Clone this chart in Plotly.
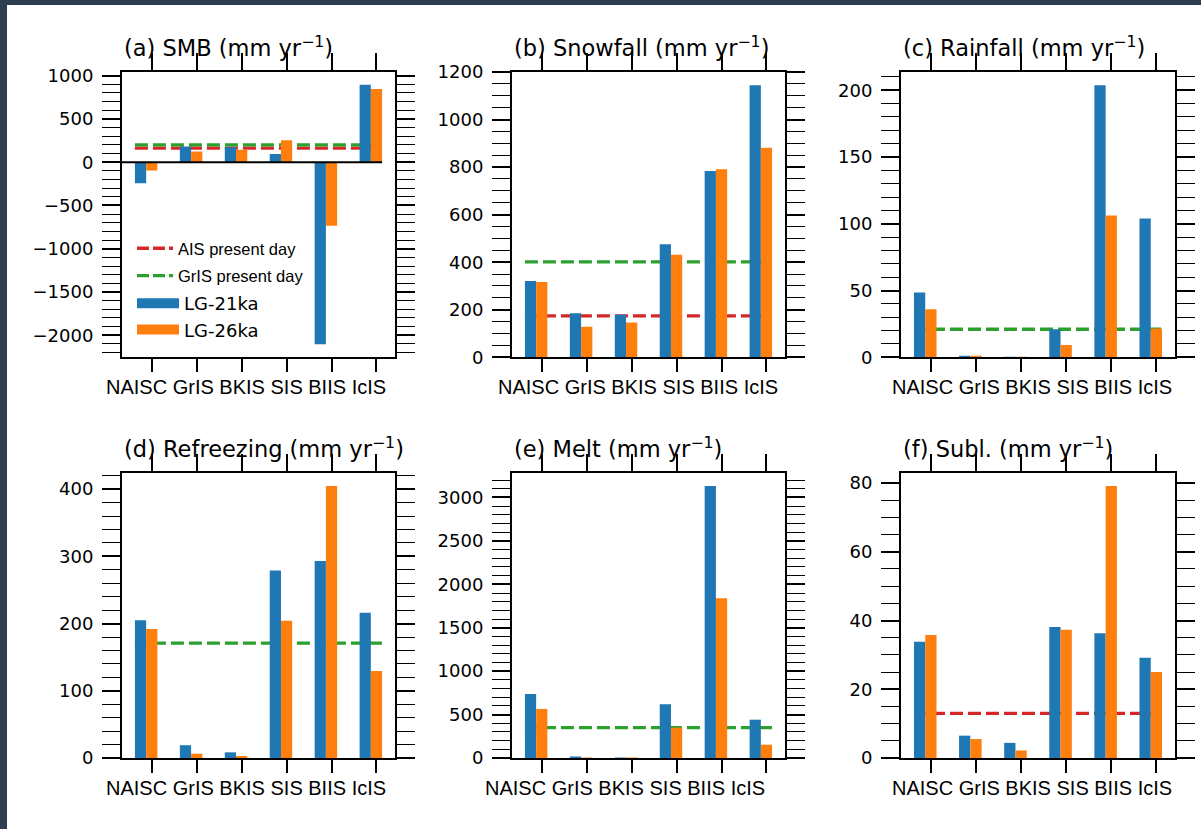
import plotly.graph_objects as go

W, H = 1201, 829

categories = ["NAISC", "GrIS", "BKIS", "SIS", "BIIS", "IcIS"]

# Regional means per ice sheet, LG-21ka vs LG-26ka (mm yr-1)
smb_21 = [-243, 181, 174, 96, -2105, 896]
smb_26 = [-97, 123, 143, 255, -735, 846]
snow_21 = [321, 185, 179, 476, 784, 1144]
snow_26 = [317, 129, 146, 431, 791, 881]
rain_21 = [48.5, 1.0, 0.4, 21.0, 203.7, 104.0]
rain_26 = [36.0, 0.6, 0.2, 9.2, 106.2, 21.5]
refr_21 = [205, 19, 8.4, 279, 293, 216]
refr_26 = [192, 6.4, 3.0, 204, 404.5, 129.5]
melt_21 = [737, 15, 5, 619, 3131, 441]
melt_26 = [565, 5, 3, 350, 1840, 153]
subl_21 = [33.8, 6.5, 4.4, 38.1, 36.3, 29.2]
subl_26 = [35.8, 5.5, 2.2, 37.3, 79.1, 25.0]

# Present-day reference values per panel (None = not shown)
ais_present = [162, 174, None, None, None, 13.0]
gris_present = [200, 401, 21, 171, 349, None]

titles = ["(a) SMB", "(b) Snowfall", "(c) Rainfall",
          "(d) Refreezing", "(e) Melt", "(f) Subl."]
series_21 = [smb_21, snow_21, rain_21, refr_21, melt_21, subl_21]
series_26 = [smb_26, snow_26, rain_26, refr_26, melt_26, subl_26]
major_dtick = [500, 200, 50, 100, 500, 20]
minor_dtick = [100, 50, 10, 20, 100, 5]

BLUE, ORANGE, RED, GREEN = "#1f77b4", "#ff7f0e", "#d62728", "#2ca02c"
DARK = "#2c3e50"
TICK_FONT = dict(family="DejaVu Sans", size=18, color="black")
CAT_FONT = dict(family="Liberation Sans, Arial", size=20, color="black")

# panel boxes in pixels: (left, right, top, bottom)
cols = [(122, 395), (512, 785), (901, 1175)]
rows = [(71.7, 357.3), (472.5, 758)]
# horizontal offset of the category caption under each panel (px)
caption_shift = [-13, -10.5, -6, -13, -23.5, -6]

n = len(categories)
idx = list(range(n))
bar_w = 0.25
x_lo, x_hi = -0.375 - 0.05 * (n - 0.25), (n - 1) + 0.125 + 0.05 * (n - 0.25)

fig = go.Figure()
layout = {}
shapes = []
annotations = []

for k in range(6):
    r, c = divmod(k, 3)
    sfx = "" if k == 0 else str(k + 1)
    xa, ya = "x" + sfx, "y" + sfx
    left, right = cols[c]
    top, bottom = rows[r]

    v21, v26 = series_21[k], series_26[k]
    dmin = min(0, min(v21), min(v26))
    dmax = max(max(v21), max(v26))
    if dmin < 0:
        span = dmax - dmin
        yr = [dmin - 0.05 * span, dmax + 0.05 * span]
    else:
        yr = [0, dmax * 1.05]

    fig.add_trace(go.Bar(x=idx, y=v21, width=bar_w, offset=-1.5 * bar_w,
                         marker=dict(color=BLUE, line=dict(width=0)),
                         showlegend=False, xaxis=xa, yaxis=ya, name="LG-21ka"))
    fig.add_trace(go.Bar(x=idx, y=v26, width=bar_w, offset=-0.5 * bar_w,
                         marker=dict(color=ORANGE, line=dict(width=0)),
                         showlegend=False, xaxis=xa, yaxis=ya, name="LG-26ka"))

    for val, col in ((ais_present[k], RED), (gris_present[k], GREEN)):
        if val is None:
            continue
        shapes.append(dict(type="line", xref=xa, yref=ya, layer="below",
                           x0=-1.5 * bar_w, x1=(n - 1) + 0.5 * bar_w, y0=val, y1=val,
                           line=dict(color=col, width=3.3, dash="13px,5px")))

    if dmin < 0:
        shapes.append(dict(type="line", xref=xa + " domain", yref=ya,
                           x0=0, x1=(n - 1 + 0.5 * bar_w - x_lo) / (x_hi - x_lo),
                           y0=0, y1=0, line=dict(color="black", width=2)))

    xdom = [left / W, right / W]
    layout["xaxis" + sfx] = dict(
        domain=xdom, anchor=ya, range=[x_lo, x_hi],
        tickmode="array", tickvals=idx, showticklabels=False,
        ticks="outside", ticklen=13, tickwidth=2, tickcolor="black",
        showline=True, linewidth=2, linecolor="black", mirror=True,
        showgrid=False, zeroline=False, automargin=False,
    )
    # tick marks along the top edge
    layout["xaxis" + str(k + 7)] = dict(
        domain=xdom, anchor=ya, overlaying=xa, side="top", range=[x_lo, x_hi],
        tickmode="array", tickvals=idx, showticklabels=False,
        ticks="outside", ticklen=18, tickwidth=2, tickcolor="black",
        showline=False, showgrid=False, zeroline=False, automargin=False,
    )
    layout["yaxis" + sfx] = dict(
        domain=[1 - bottom / H, 1 - top / H], anchor=xa, range=yr,
        tick0=0, dtick=major_dtick[k], tickformat="d",
        ticks="outside", ticklen=18, tickwidth=2, tickcolor="black",
        minor=dict(dtick=minor_dtick[k], tick0=0, ticks="outside", ticklen=9,
                   tickwidth=1.4, tickcolor="black", showgrid=False),
        showline=True, linewidth=2, linecolor="black", mirror="allticks",
        showgrid=False, zeroline=False, tickfont=TICK_FONT, ticklabelstandoff=5,
        automargin=False,
    )
    annotations.append(dict(
        text=titles[k] + " (mm yr<sup>\u22121</sup>)", showarrow=False,
        xref=xa + " domain", yref=ya + " domain", x=0, y=1,
        xanchor="left", yanchor="middle", yshift=25,
        font=dict(family="DejaVu Sans", size=22.5, color="black"),
    ))
    annotations.append(dict(
        text=" ".join(categories), showarrow=False,
        xref=xa + " domain", yref=ya + " domain", x=0.5, y=0,
        xanchor="center", yanchor="middle", xshift=caption_shift[k], yshift=-30,
        font=CAT_FONT,
    ))
    # invisible anchor so the top tick axis gets its own subplot
    fig.add_trace(go.Scatter(x=[None], y=[None], xaxis="x" + str(k + 7), yaxis=ya,
                             showlegend=False, hoverinfo="skip"))

# legend keys for panel (a)
for name, col in (("AIS present day", RED), ("GrIS present day", GREEN)):
    fig.add_trace(go.Scatter(x=[None], y=[None], mode="lines", name=name,
                             line=dict(color=col, width=3.3, dash="12px,4px"),
                             legend="legend", legendgroup=name))
for name, col in (("LG-21ka", BLUE), ("LG-26ka", ORANGE)):
    fig.add_trace(go.Scatter(x=[None], y=[None], mode="lines", name=name,
                             line=dict(color=col, width=12),
                             legend="legend2", legendgroup=name))

# page frame
shapes.append(dict(type="rect", xref="paper", yref="paper", x0=0, x1=7 / W,
                   y0=0, y1=1, fillcolor=DARK, line=dict(width=0)))
shapes.append(dict(type="rect", xref="paper", yref="paper", x0=0, x1=1,
                   y0=1 - 5 / H, y1=1, fillcolor=DARK, line=dict(width=0)))

fig.update_layout(
    width=W, height=H, margin=dict(l=0, r=0, t=0, b=0, autoexpand=False),
    paper_bgcolor="white", plot_bgcolor="white",
    barmode="overlay", shapes=shapes, annotations=annotations,
    legend=dict(x=132 / W, y=1 - 231 / H, xanchor="left", yanchor="top",
                bgcolor="rgba(0,0,0,0)", traceorder="grouped", tracegroupgap=3,
                font=dict(family="Liberation Sans, Arial", size=16.5, color="black"),
                itemwidth=36),
    legend2=dict(x=132 / W, y=1 - 285 / H, xanchor="left", yanchor="top",
                 bgcolor="rgba(0,0,0,0)", traceorder="grouped", tracegroupgap=0,
                 font=dict(family="DejaVu Sans", size=18, color="black"),
                 itemwidth=42),
    **layout,
)

fig.write_html("out.html")
